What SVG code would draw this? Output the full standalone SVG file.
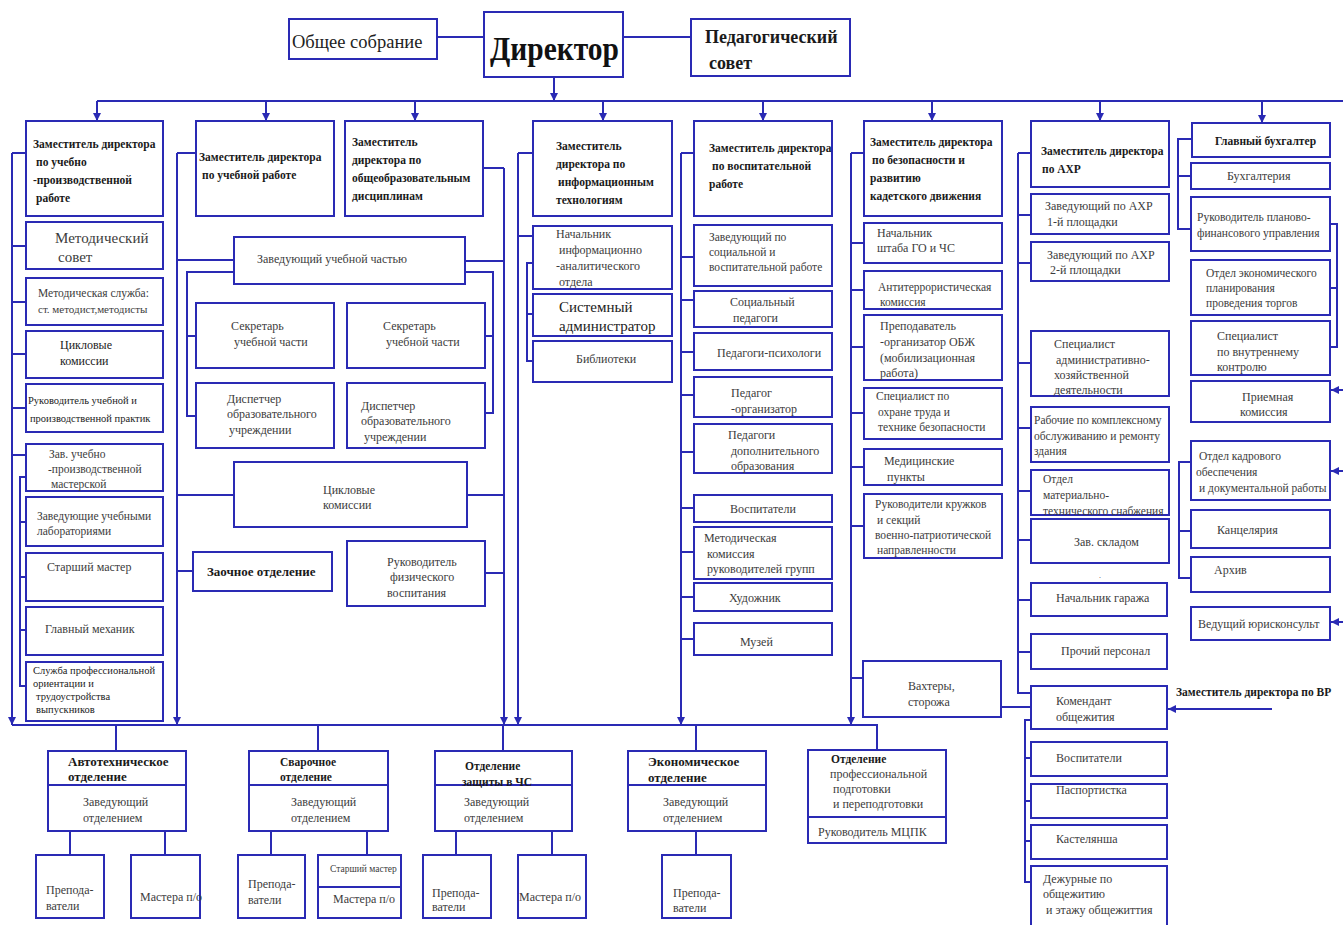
<svg xmlns="http://www.w3.org/2000/svg" width="1343" height="925" viewBox="0 0 1343 925">
<defs>
<style>
.b{fill:#fff;stroke:#2a2ab4;stroke-width:2}
.c{fill:none;stroke:#2a2ab4;stroke-width:2}
.r{font-family:"Liberation Serif",serif;font-size:12px;fill:#3c3c3c}
.bd{font-family:"Liberation Serif",serif;font-size:11.5px;font-weight:bold;fill:#1a1a1a}
.s105{font-size:10.5px}
.s11{font-size:11px}
.s115{font-size:11.5px}
.s13{font-size:13px}
.s15{font-size:15px}
</style>
<marker id="ah" viewBox="0 0 8 8" refX="8" refY="4" markerWidth="8" markerHeight="8" markerUnits="userSpaceOnUse" orient="auto">
<path d="M0,0 L8,4 L0,8 z" fill="#2a2ab4"/>
</marker>
</defs>
<rect width="1343" height="925" fill="#fff"/>

<g id="connectors">
<!-- top -->
<path class="c" d="M437,37H484M623,37H691"/>
<path class="c" d="M554,77V101" marker-end="url(#ah)"/>
<path class="c" d="M97,101H1343"/>
<path class="c" d="M97,101V121" marker-end="url(#ah)"/>
<path class="c" d="M266,101V121" marker-end="url(#ah)"/>
<path class="c" d="M415,101V121" marker-end="url(#ah)"/>
<path class="c" d="M603,101V121" marker-end="url(#ah)"/>
<path class="c" d="M763,101V121" marker-end="url(#ah)"/>
<path class="c" d="M932,101V121" marker-end="url(#ah)"/>
<path class="c" d="M1100,101V121" marker-end="url(#ah)"/>
<path class="c" d="M1262,101V123" marker-end="url(#ah)"/>
<!-- column 1 -->
<path class="c" d="M12,153V725" marker-end="url(#ah)"/>
<path class="c" d="M12,153H26M12,246H26M12,302H26M12,354H26M12,408H26M12,455H26"/>
<path class="c" d="M26,477H20V686H26M20,522H26M20,577H26M20,630H26"/>
<!-- column 2 -->
<path class="c" d="M177,153V725" marker-end="url(#ah)"/>
<path class="c" d="M177,153H196M177,260H234M177,495H234M177,571H193"/>
<path class="c" d="M234,272H187V416H196M187,336H196"/>
<path class="c" d="M465,261H504M465,272H493V413H485M485,336H493M467,495H504M485,573H504M483,168H504"/>
<path class="c" d="M504,168V725" marker-end="url(#ah)"/>
<!-- column 4 -->
<path class="c" d="M518,153V725" marker-end="url(#ah)"/>
<path class="c" d="M518,153H533M518,236H533M533,263H527V361H533M527,314H533"/>
<!-- column 5 -->
<path class="c" d="M681,153V725" marker-end="url(#ah)"/>
<path class="c" d="M681,153H694M681,257H694M681,300H694M681,352H694M681,395H694M681,452H694M681,508H694M681,552H694M681,597H694M681,639H694"/>
<!-- column 6 -->
<path class="c" d="M851,153V725" marker-end="url(#ah)"/>
<path class="c" d="M851,153H864M851,243H864M851,290H864M851,347H864M851,413H864M851,467H864M851,526H864M851,678H863M1001,707H1031"/>
<!-- column 7 -->
<path class="c" d="M1018,153V693H1031M1018,153H1031M1018,215H1031M1018,263H1031M1018,363H1031M1018,428H1031M1018,491H1031M1018,540H1031M1018,600H1031M1018,652H1031"/>
<path class="c" d="M1031,720H1025V882H1031M1025,758H1031M1025,801H1031M1025,841H1031"/>
<path class="c" d="M1272,709H1168" marker-end="url(#ah)"/>
<!-- column 8 -->
<path class="c" d="M1192,139H1178V229H1192M1178,176H1191"/>
<path class="c" d="M1330,224H1337V347H1330M1330,288H1337"/>
<path class="c" d="M1192,462H1179V578H1192M1179,531H1192"/>
<path class="c" d="M1343,390H1331" marker-end="url(#ah)"/>
<path class="c" d="M1343,471H1331" marker-end="url(#ah)"/>
<path class="c" d="M1343,622H1331" marker-end="url(#ah)"/>
<!-- bottom bus -->
<path class="c" d="M12,725H877V750"/>
<path class="c" d="M116,725V751M318,725V751M503,725V751M696,725V751"/>
<path class="c" d="M70,831V855M165,831V855M271,831V855M367,831V855M456,831V855M552,831V855M696,831V855"/>
</g>

<g id="obshee"><rect class="b" x="289" y="19" width="148" height="40"/><text class="r" x="292" y="48" style="font-size:18.5px;fill:#222">Общее собрание</text></g>
<g id="director"><rect class="b" x="484" y="12" width="139" height="65"/><text class="bd" x="490" y="60" textLength="129" lengthAdjust="spacingAndGlyphs" style="font-size:34px;fill:#111">Директор</text></g>
<g id="pedsovet"><rect class="b" x="691" y="19" width="159" height="57"/><text class="bd" style="font-size:18px"><tspan x="705" y="43">Педагогический</tspan><tspan x="709" y="69">совет</tspan></text></g>

<g id="zam-up"><rect class="b" x="26" y="121" width="137" height="95"/><text class="bd"><tspan x="33" y="148">Заместитель директора</tspan><tspan x="36" y="166">по учебно</tspan><tspan x="33" y="184">-производственной</tspan><tspan x="36" y="202">работе</tspan></text></g>
<g id="zam-ur"><rect class="b" x="196" y="121" width="138" height="95"/><text class="bd"><tspan x="199" y="161">Заместитель директора</tspan><tspan x="202" y="179">по учебной работе</tspan></text></g>
<g id="zam-ood"><rect class="b" x="345" y="121" width="138" height="95"/><text class="bd"><tspan x="352" y="146">Заместитель</tspan><tspan x="352" y="164">директора по</tspan><tspan x="352" y="182">общеобразовательным</tspan><tspan x="352" y="200">дисциплинам</tspan></text></g>
<g id="zam-it"><rect class="b" x="533" y="121" width="139" height="95"/><text class="bd"><tspan x="556" y="150">Заместитель</tspan><tspan x="556" y="168">директора по</tspan><tspan x="558" y="186">информационным</tspan><tspan x="556" y="204">технологиям</tspan></text></g>
<g id="zam-vr"><rect class="b" x="694" y="121" width="138" height="95"/><text class="bd"><tspan x="709" y="152">Заместитель директора</tspan><tspan x="712" y="170">по воспитательной</tspan><tspan x="709" y="188">работе</tspan></text></g>
<g id="zam-bez"><rect class="b" x="864" y="121" width="138" height="95"/><text class="bd"><tspan x="870" y="146">Заместитель директора</tspan><tspan x="872" y="164">по безопасности и</tspan><tspan x="870" y="182">развитию</tspan><tspan x="870" y="200">кадетского движения</tspan></text></g>
<g id="zam-ahr"><rect class="b" x="1031" y="121" width="138" height="66"/><text class="bd"><tspan x="1041" y="155">Заместитель директора</tspan><tspan x="1042" y="173">по АХР</tspan></text></g>
<g id="gl-buh"><rect class="b" x="1192" y="123" width="138" height="34"/><text class="bd" x="1215" y="145">Главный бухгалтер</text></g>

<g id="metod-sovet"><rect class="b" x="26" y="222" width="137" height="47"/><text class="r s15"><tspan x="55" y="243">Методический</tspan><tspan x="58" y="262">совет</tspan></text></g>
<g id="metod-sl"><rect class="b" x="26" y="278" width="137" height="47"/><text class="r s115"><tspan x="38" y="297">Методическая служба:</tspan><tspan x="38" y="313" class="s11">ст. методист,методисты</tspan></text></g>
<g id="cikl1"><rect class="b" x="26" y="331" width="137" height="47"/><text class="r" style="fill:#222"><tspan x="60" y="349">Цикловые</tspan><tspan x="60" y="365">комиссии</tspan></text></g>
<g id="ruk-prakt"><rect class="b" x="26" y="384" width="137" height="48"/><text class="r s105" style="fill:#222"><tspan x="28" y="404">Руководитель учебной и</tspan><tspan x="30" y="422">производственной практик</tspan></text></g>
<g id="zav-master"><rect class="b" x="26" y="444" width="137" height="47"/><text class="r s115"><tspan x="49" y="458">Зав. учебно</tspan><tspan x="48" y="473">-производственной</tspan><tspan x="51" y="488">мастерской</tspan></text></g>
<g id="zav-lab"><rect class="b" x="26" y="497" width="137" height="49"/><text class="r s115"><tspan x="37" y="520">Заведующие учебными</tspan><tspan x="37" y="535">лабораториями</tspan></text></g>
<g id="st-master"><rect class="b" x="26" y="553" width="137" height="48"/><text class="r" x="47" y="571">Старший мастер</text></g>
<g id="gl-mech"><rect class="b" x="26" y="607" width="137" height="48"/><text class="r" x="45" y="633">Главный механик</text></g>
<g id="sluzhba"><rect class="b" x="26" y="662" width="137" height="59"/><text class="r s105" style="fill:#222"><tspan x="33" y="674">Служба профессиональной</tspan><tspan x="33" y="687">ориентации и</tspan><tspan x="36" y="700">трудоустройства</tspan><tspan x="36" y="713">выпускников</tspan></text></g>

<g id="zav-uch"><rect class="b" x="234" y="237" width="231" height="47"/><text class="r" x="257" y="263">Заведующий учебной частью</text></g>
<g id="sekr1"><rect class="b" x="196" y="303" width="138" height="65"/><text class="r"><tspan x="231" y="330">Секретарь</tspan><tspan x="234" y="346">учебной части</tspan></text></g>
<g id="sekr2"><rect class="b" x="347" y="303" width="138" height="65"/><text class="r"><tspan x="383" y="330">Секретарь</tspan><tspan x="386" y="346">учебной части</tspan></text></g>
<g id="disp1"><rect class="b" x="196" y="383" width="138" height="65"/><text class="r"><tspan x="227" y="403">Диспетчер</tspan><tspan x="227" y="418">образовательного</tspan><tspan x="229" y="434">учреждении</tspan></text></g>
<g id="disp2"><rect class="b" x="347" y="383" width="138" height="65"/><text class="r"><tspan x="361" y="410">Диспетчер</tspan><tspan x="361" y="425">образовательного</tspan><tspan x="364" y="441">учреждении</tspan></text></g>
<g id="cikl2"><rect class="b" x="234" y="462" width="233" height="65"/><text class="r"><tspan x="323" y="494">Цикловые</tspan><tspan x="323" y="509">комиссии</tspan></text></g>
<g id="zaoch"><rect class="b" x="193" y="552" width="139" height="39"/><text class="bd s13" x="207" y="576">Заочное отделение</text></g>
<g id="ruk-fiz"><rect class="b" x="347" y="541" width="138" height="65"/><text class="r"><tspan x="387" y="566">Руководитель</tspan><tspan x="390" y="581">физического</tspan><tspan x="387" y="597">воспитания</tspan></text></g>

<g id="nach-ia"><rect class="b" x="533" y="226" width="139" height="63"/><text class="r"><tspan x="556" y="238">Начальник</tspan><tspan x="559" y="254">информационно</tspan><tspan x="556" y="270">-аналитического</tspan><tspan x="559" y="286">отдела</tspan></text></g>
<g id="sysadm"><rect class="b" x="533" y="294" width="139" height="42"/><text class="r s15" style="fill:#222"><tspan x="559" y="312">Системный</tspan><tspan x="559" y="331">администратор</tspan></text></g>
<g id="bibl"><rect class="b" x="533" y="341" width="139" height="41"/><text class="r" x="576" y="363">Библиотеки</text></g>

<g id="zav-soc"><rect class="b" x="694" y="225" width="138" height="61"/><text class="r s115"><tspan x="709" y="241">Заведующий по</tspan><tspan x="709" y="256">социальной и</tspan><tspan x="709" y="271">воспитательной работе</tspan></text></g>
<g id="soc-ped"><rect class="b" x="694" y="291" width="138" height="36"/><text class="r"><tspan x="730" y="306">Социальный</tspan><tspan x="733" y="322">педагоги</tspan></text></g>
<g id="ped-psih"><rect class="b" x="694" y="333" width="138" height="37"/><text class="r" x="717" y="357">Педагоги-психологи</text></g>
<g id="ped-org"><rect class="b" x="694" y="377" width="138" height="40"/><text class="r"><tspan x="731" y="397">Педагог</tspan><tspan x="731" y="413">-организатор</tspan></text></g>
<g id="ped-dop"><rect class="b" x="694" y="424" width="138" height="49"/><text class="r"><tspan x="728" y="439">Педагоги</tspan><tspan x="731" y="455">дополнительного</tspan><tspan x="731" y="470">образования</tspan></text></g>
<g id="vosp1"><rect class="b" x="694" y="495" width="138" height="27"/><text class="r" x="730" y="513">Воспитатели</text></g>
<g id="met-kom"><rect class="b" x="694" y="527" width="138" height="52"/><text class="r"><tspan x="704" y="542">Методическая</tspan><tspan x="707" y="558">комиссия</tspan><tspan x="707" y="573">руководителей групп</tspan></text></g>
<g id="hud"><rect class="b" x="694" y="583" width="138" height="28"/><text class="r" x="729" y="602">Художник</text></g>
<g id="muzei"><rect class="b" x="694" y="623" width="138" height="32"/><text class="r" x="740" y="646">Музей</text></g>

<g id="nach-shtab"><rect class="b" x="864" y="223" width="138" height="40"/><text class="r"><tspan x="877" y="237">Начальник</tspan><tspan x="877" y="252">штаба ГО и ЧС</tspan></text></g>
<g id="antiterr"><rect class="b" x="864" y="271" width="138" height="38"/><text class="r s115"><tspan x="878" y="291">Антитеррористическая</tspan><tspan x="880" y="306">комиссия</tspan></text></g>
<g id="prep-obzh"><rect class="b" x="864" y="315" width="138" height="65"/><text class="r"><tspan x="880" y="330">Преподаватель</tspan><tspan x="880" y="346">-организатор ОБЖ</tspan><tspan x="880" y="362">(мобилизационная</tspan><tspan x="880" y="377">работа)</tspan></text></g>
<g id="spec-ot"><rect class="b" x="864" y="388" width="138" height="51"/><text class="r s115"><tspan x="876" y="400">Специалист по</tspan><tspan x="878" y="416">охране труда и</tspan><tspan x="878" y="431">технике безопасности</tspan></text></g>
<g id="med"><rect class="b" x="864" y="449" width="138" height="36"/><text class="r"><tspan x="884" y="465">Медицинские</tspan><tspan x="887" y="481">пункты</tspan></text></g>
<g id="ruk-kruzh"><rect class="b" x="864" y="494" width="138" height="64"/><text class="r s115"><tspan x="875" y="508">Руководители кружков</tspan><tspan x="877" y="524">и секций</tspan><tspan x="875" y="539">военно-патриотической</tspan><tspan x="877" y="554">направленности</tspan></text></g>
<g id="vahter"><rect class="b" x="863" y="661" width="138" height="56"/><text class="r"><tspan x="908" y="690">Вахтеры,</tspan><tspan x="908" y="706">сторожа</tspan></text></g>

<g id="zav-ahr1"><rect class="b" x="1031" y="194" width="138" height="40"/><text class="r"><tspan x="1045" y="210">Заведующий по АХР</tspan><tspan x="1047" y="226">1-й площадки</tspan></text></g>
<g id="zav-ahr2"><rect class="b" x="1031" y="242" width="138" height="39"/><text class="r"><tspan x="1047" y="259">Заведующий по АХР</tspan><tspan x="1050" y="274">2-й площадки</tspan></text></g>
<g id="spec-ahd"><rect class="b" x="1031" y="331" width="138" height="65"/><text class="r"><tspan x="1054" y="348">Специалист</tspan><tspan x="1056" y="364">административно-</tspan><tspan x="1054" y="379">хозяйственной</tspan><tspan x="1054" y="394">деятельности</tspan></text></g>
<g id="rabochie"><rect class="b" x="1031" y="407" width="138" height="55"/><text class="r s115"><tspan x="1034" y="424">Рабочие по комплексному</tspan><tspan x="1034" y="440">обслуживанию и ремонту</tspan><tspan x="1034" y="455">здания</tspan></text></g>
<g id="otdel-mts"><rect class="b" x="1031" y="470" width="138" height="45"/><text class="r s115"><tspan x="1043" y="483">Отдел</tspan><tspan x="1043" y="499">материально-</tspan><tspan x="1043" y="515">технического снабжения</tspan></text></g>
<g id="zav-sklad"><rect class="b" x="1031" y="519" width="138" height="44"/><text class="r" x="1074" y="546">Зав. складом</text></g>
<text class="r" x="1099" y="578" style="font-size:8px">.</text>
<g id="nach-garazh"><rect class="b" x="1031" y="583" width="136" height="33"/><text class="r" x="1056" y="602">Начальник гаража</text></g>
<g id="prochiy"><rect class="b" x="1031" y="634" width="136" height="35"/><text class="r" x="1061" y="655">Прочий персонал</text></g>
<g id="komendant"><rect class="b" x="1031" y="686" width="136" height="43"/><text class="r"><tspan x="1056" y="705">Комендант</tspan><tspan x="1056" y="721">общежития</tspan></text></g>
<g id="vosp2"><rect class="b" x="1031" y="742" width="136" height="34"/><text class="r" x="1056" y="762">Воспитатели</text></g>
<g id="pasport"><rect class="b" x="1031" y="784" width="136" height="34"/><text class="r" x="1056" y="794">Паспортистка</text></g>
<g id="kastel"><rect class="b" x="1031" y="825" width="136" height="34"/><text class="r" x="1056" y="843">Кастелянша</text></g>
<g id="dezhur"><rect class="b" x="1031" y="866" width="136" height="62"/><text class="r"><tspan x="1043" y="883">Дежурные по</tspan><tspan x="1043" y="898">общежитию</tspan><tspan x="1046" y="914">и этажу общежиттия</tspan></text></g>
<g id="zam-vr-label"><text class="bd" x="1176" y="696">Заместитель директора по ВР</text></g>

<g id="buhg"><rect class="b" x="1191" y="163" width="139" height="26"/><text class="r" x="1227" y="180">Бухгалтерия</text></g>
<g id="ruk-pfu"><rect class="b" x="1191" y="197" width="139" height="54"/><text class="r s115"><tspan x="1197" y="221">Руководитель планово-</tspan><tspan x="1197" y="237">финансового управления</tspan></text></g>
<g id="otdel-econ"><rect class="b" x="1191" y="260" width="139" height="55"/><text class="r s115"><tspan x="1206" y="277">Отдел экономического</tspan><tspan x="1206" y="292">планирования</tspan><tspan x="1206" y="307">проведения торгов</tspan></text></g>
<g id="spec-vk"><rect class="b" x="1191" y="321" width="139" height="54"/><text class="r"><tspan x="1217" y="340">Специалист</tspan><tspan x="1217" y="356">по внутреннему</tspan><tspan x="1217" y="371">контролю</tspan></text></g>
<g id="priem"><rect class="b" x="1191" y="381" width="139" height="41"/><text class="r"><tspan x="1242" y="401">Приемная</tspan><tspan x="1240" y="416">комиссия</tspan></text></g>
<g id="otdel-kadr"><rect class="b" x="1191" y="441" width="139" height="59"/><text class="r s115"><tspan x="1199" y="460">Отдел кадрового</tspan><tspan x="1196" y="476">обеспечения</tspan><tspan x="1199" y="492">и документальной работы</tspan></text></g>
<g id="kanc"><rect class="b" x="1191" y="510" width="139" height="38"/><text class="r" x="1217" y="534">Канцелярия</text></g>
<g id="arhiv"><rect class="b" x="1191" y="557" width="139" height="35"/><text class="r" x="1214" y="574">Архив</text></g>
<g id="yurist"><rect class="b" x="1191" y="607" width="139" height="33"/><text class="r" x="1198" y="628">Ведущий юрисконсульт</text></g>

<g id="avto"><rect class="b" x="48" y="751" width="138" height="80"/><path class="c" d="M48,785H186"/><text class="bd s13"><tspan x="68" y="766">Автотехническое</tspan><tspan x="68" y="781">отделение</tspan></text><text class="r"><tspan x="83" y="806">Заведующий</tspan><tspan x="83" y="822">отделением</tspan></text></g>
<g id="avto-prep"><rect class="b" x="36" y="855" width="68" height="63"/><text class="r"><tspan x="46" y="894">Препода-</tspan><tspan x="46" y="910">ватели</tspan></text></g>
<g id="avto-mast"><rect class="b" x="131" y="855" width="69" height="63"/><text class="r" x="140" y="901">Мастера п/о</text></g>
<g id="svar"><rect class="b" x="249" y="751" width="139" height="80"/><path class="c" d="M249,785H388"/><text class="bd"><tspan x="280" y="766">Сварочное</tspan><tspan x="280" y="781">отделение</tspan></text><text class="r"><tspan x="291" y="806">Заведующий</tspan><tspan x="291" y="822">отделением</tspan></text></g>
<g id="svar-prep"><rect class="b" x="238" y="855" width="67" height="63"/><text class="r"><tspan x="248" y="888">Препода-</tspan><tspan x="248" y="904">ватели</tspan></text></g>
<g id="svar-mast"><rect class="b" x="318" y="855" width="83" height="63"/><path class="c" d="M318,887H401"/><text class="r" x="330" y="872" style="font-size:9.5px">Старший мастер</text><text class="r" x="333" y="903">Мастера п/о</text></g>
<g id="chs"><rect class="b" x="435" y="751" width="137" height="80"/><path class="c" d="M435,785H572"/><text class="bd"><tspan x="465" y="770">Отделение</tspan><tspan x="462" y="786">защиты в ЧС</tspan></text><text class="r"><tspan x="464" y="806">Заведующий</tspan><tspan x="464" y="822">отделением</tspan></text></g>
<g id="chs-prep"><rect class="b" x="423" y="855" width="68" height="63"/><text class="r"><tspan x="432" y="897">Препода-</tspan><tspan x="432" y="911">ватели</tspan></text></g>
<g id="chs-mast"><rect class="b" x="518" y="855" width="68" height="63"/><text class="r" x="519" y="901">Мастера п/о</text></g>
<g id="econ"><rect class="b" x="628" y="751" width="138" height="80"/><path class="c" d="M628,785H766"/><text class="bd s13"><tspan x="648" y="766">Экономическое</tspan><tspan x="648" y="782">отделение</tspan></text><text class="r"><tspan x="663" y="806">Заведующий</tspan><tspan x="663" y="822">отделением</tspan></text></g>
<g id="econ-prep"><rect class="b" x="662" y="855" width="69" height="63"/><text class="r"><tspan x="673" y="897">Препода-</tspan><tspan x="673" y="912">ватели</tspan></text></g>
<g id="mcpk"><rect class="b" x="808" y="750" width="138" height="93"/><path class="c" d="M808,817H946"/><text class="bd" x="831" y="763">Отделение</text><text class="r"><tspan x="830" y="778">профессиональной</tspan><tspan x="833" y="793">подготовки</tspan><tspan x="833" y="808">и переподготовки</tspan><tspan x="818" y="836">Руководитель МЦПК</tspan></text></g>
</svg>
